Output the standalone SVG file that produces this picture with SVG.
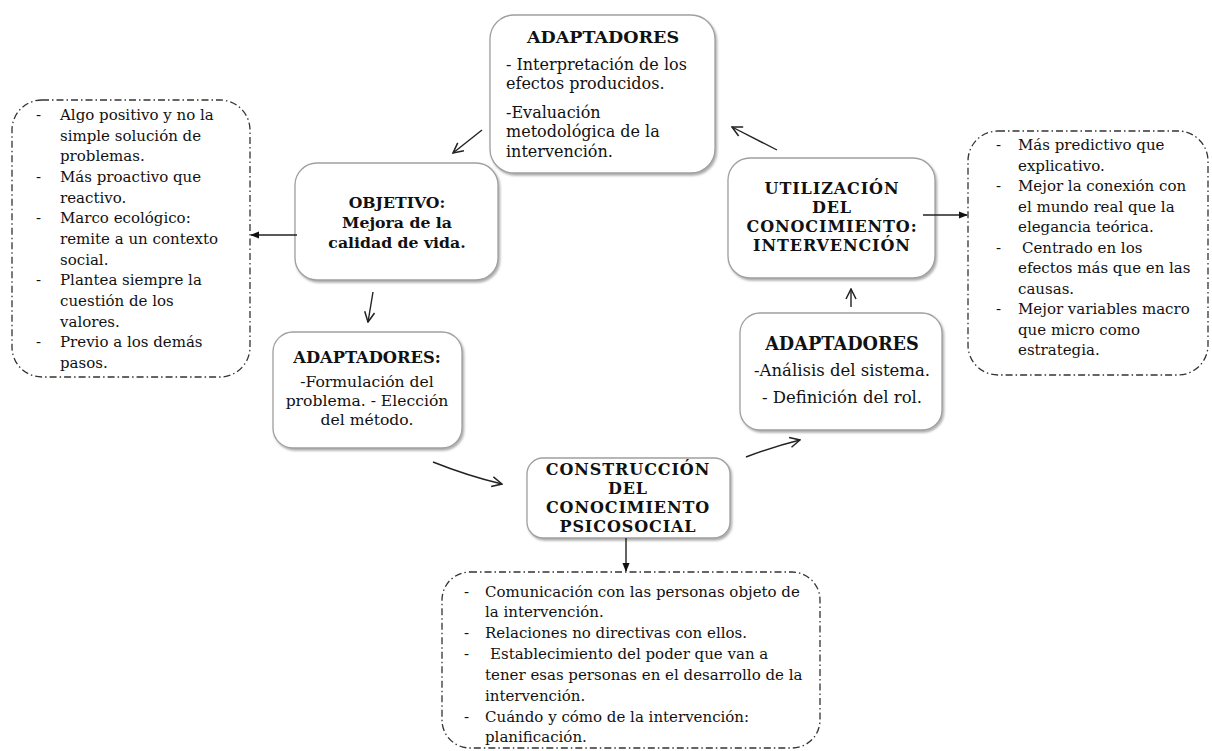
<svg xmlns="http://www.w3.org/2000/svg" width="1212" height="751" viewBox="0 0 1212 751" font-family="'DejaVu Serif', 'Liberation Serif', serif">
<defs>
<filter id="sh" x="-10%" y="-10%" width="130%" height="130%">
<feDropShadow dx="1.5" dy="2" stdDeviation="1.2" flood-color="#777" flood-opacity="0.6"/>
</filter>
<marker id="open" viewBox="0 0 12 12" refX="11" refY="6" markerWidth="12" markerHeight="12" markerUnits="userSpaceOnUse" orient="auto">
<path d="M1,1 L11,6 L1,11" fill="none" stroke="#222" stroke-width="1.5"/>
</marker>
<marker id="fill" viewBox="0 0 10 10" refX="9" refY="5" markerWidth="9" markerHeight="9" markerUnits="userSpaceOnUse" orient="auto">
<path d="M0,1 L10,5 L0,9 Z" fill="#111"/>
</marker>
</defs>
<style>
.box{fill:#fff;stroke:#a0a0a0;stroke-width:1.3;filter:url(#sh)}
.dash{fill:#fff;stroke:#333;stroke-width:1.3;stroke-dasharray:7 3 1.5 3}
text{fill:#111}
.h{font-weight:bold;font-size:16px;text-anchor:middle}
.ad{font-size:17.5px}
.caps{letter-spacing:0.9px}
.t{font-size:16px}
.c{text-anchor:middle}
.l{font-size:15px}
.con{fill:none;stroke:#222;stroke-width:1.4}
</style>
<rect width="1212" height="751" fill="#fff"/>

<g id="left-notes">
<rect class="dash" x="12" y="100" width="238" height="277" rx="30"/>
<g class="l">
<text x="36" y="120">-</text><text x="60" y="120">Algo positivo y no la</text>
<text x="60" y="141">simple solución de</text>
<text x="60" y="161">problemas.</text>
<text x="36" y="182">-</text><text x="60" y="182">Más proactivo que</text>
<text x="60" y="203">reactivo.</text>
<text x="36" y="223">-</text><text x="60" y="223">Marco ecológico:</text>
<text x="60" y="244">remite a un contexto</text>
<text x="60" y="265">social.</text>
<text x="36" y="285">-</text><text x="60" y="285">Plantea siempre la</text>
<text x="60" y="306">cuestión de los</text>
<text x="60" y="327">valores.</text>
<text x="36" y="347">-</text><text x="60" y="347">Previo a los demás</text>
<text x="60" y="368">pasos.</text>
</g>
</g>

<g id="right-notes">
<rect class="dash" x="968" y="131" width="240" height="244" rx="30"/>
<g class="l">
<text x="996" y="150">-</text><text x="1018" y="150">Más predictivo que</text>
<text x="1018" y="171">explicativo.</text>
<text x="996" y="191">-</text><text x="1018" y="191">Mejor la conexión con</text>
<text x="1018" y="212">el mundo real que la</text>
<text x="1018" y="232">elegancia teórica.</text>
<text x="996" y="253">-</text><text x="1022" y="253">Centrado en los</text>
<text x="1018" y="273">efectos más que en las</text>
<text x="1018" y="294">causas.</text>
<text x="996" y="314">-</text><text x="1018" y="314">Mejor variables macro</text>
<text x="1018" y="335">que micro como</text>
<text x="1018" y="355">estrategia.</text>
</g>
</g>

<g id="bottom-notes">
<rect class="dash" x="442" y="572" width="378" height="176" rx="28"/>
<g class="l">
<text x="464" y="597">-</text><text x="485" y="597">Comunicación con las personas objeto de</text>
<text x="485" y="617">la intervención.</text>
<text x="464" y="638">-</text><text x="485" y="638">Relaciones no directivas con ellos.</text>
<text x="464" y="659">-</text><text x="490" y="659">Establecimiento del poder que van a</text>
<text x="485" y="680">tener esas personas en el desarrollo de la</text>
<text x="485" y="701">intervención.</text>
<text x="464" y="722">-</text><text x="485" y="722">Cuándo y cómo de la intervención:</text>
<text x="485" y="742">planificación.</text>
</g>
</g>

<g id="adaptadores-top">
<rect class="box" x="490" y="15" width="225" height="158" rx="24"/>
<text class="h ad" x="603" y="43">ADAPTADORES</text>
<g class="t">
<text x="506" y="70">- Interpretación de los</text>
<text x="506" y="89">efectos producidos.</text>
<text x="506" y="118">-Evaluación</text>
<text x="506" y="137">metodológica de la</text>
<text x="506" y="157">intervención.</text>
</g>
</g>

<g id="objetivo">
<rect class="box" x="295" y="163" width="203" height="117" rx="22"/>
<text class="h" x="397" y="208" style="font-size:15.7px">OBJETIVO:</text>
<text class="h" x="397" y="228" style="font-size:15.7px">Mejora de la</text>
<text class="h" x="397" y="248" style="font-size:15.7px">calidad de vida.</text>
</g>

<g id="utilizacion">
<rect class="box" x="728" y="158" width="207" height="120" rx="22"/>
<text class="h caps" x="832" y="194">UTILIZACIÓN</text>
<text class="h caps" x="832" y="213">DEL</text>
<text class="h caps" x="832" y="232">CONOCIMIENTO:</text>
<text class="h caps" x="832" y="251">INTERVENCIÓN</text>
</g>

<g id="adaptadores-left">
<rect class="box" x="273" y="332" width="189" height="116" rx="20"/>
<text class="h" x="367" y="363" style="font-size:16.3px">ADAPTADORES:</text>
<text class="c" x="367" y="387" style="font-size:15.6px">-Formulación del</text>
<text class="c" x="367" y="406" style="font-size:15.6px">problema. - Elección</text>
<text class="c" x="367" y="425" style="font-size:15.6px">del método.</text>
</g>

<g id="adaptadores-right">
<rect class="box" x="740" y="313" width="202" height="117" rx="20"/>
<text class="h" x="842" y="350" style="font-size:17.7px">ADAPTADORES</text>
<text class="c" x="842" y="376" style="font-size:16.5px">-Análisis del sistema.</text>
<text class="c" x="842" y="403" style="font-size:16.5px">- Definición del rol.</text>
</g>

<g id="construccion">
<rect class="box" x="527" y="458" width="203" height="80" rx="16"/>
<text class="h caps" x="628" y="475">CONSTRUCCIÓN</text>
<text class="h caps" x="628" y="494">DEL</text>
<text class="h caps" x="628" y="513">CONOCIMIENTO</text>
<text class="h caps" x="628" y="532">PSICOSOCIAL</text>
</g>

<g id="connectors">
<path class="con" d="M482,130 L453,153" marker-end="url(#open)"/>
<path class="con" d="M297,235 L251,235" marker-end="url(#fill)"/>
<path class="con" d="M373,292 L368,322" marker-end="url(#open)"/>
<path class="con" d="M433,462 Q468,476 502,484" marker-end="url(#open)"/>
<path class="con" d="M746,457 Q772,447 800,440" marker-end="url(#open)"/>
<path class="con" d="M851,307 L851,289" marker-end="url(#open)"/>
<path class="con" d="M777,150 L732,127" marker-end="url(#open)"/>
<path class="con" d="M923,215 L967,215" marker-end="url(#fill)"/>
<path class="con" d="M626,538 L626,571" marker-end="url(#fill)"/>
</g>
</svg>
